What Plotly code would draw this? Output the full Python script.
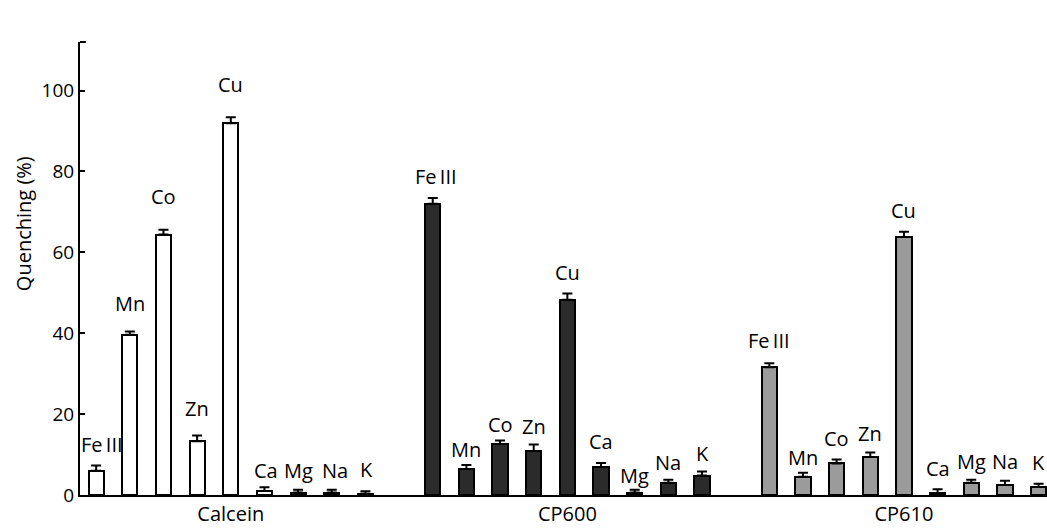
import plotly.graph_objects as go

groups = ["Calcein", "CP600", "CP610"]
metals = ["Fe\u2009III", "Mn", "Co", "Zn", "Cu", "Ca", "Mg", "Na", "K"]

calcein = [6.0, 39.6, 64.4, 13.3, 91.9, 1.0, 0.6, 0.6, 0.3]
calcein_err = [1.3, 0.8, 1.2, 1.4, 1.5, 0.9, 0.7, 0.7, 0.6]
cp600 = [72.0, 6.4, 12.6, 10.9, 48.3, 6.9, 0.6, 3.0, 4.8]
cp600_err = [1.4, 1.0, 0.9, 1.6, 1.5, 1.0, 0.7, 0.8, 1.0]
cp610 = [31.6, 4.5, 7.8, 9.4, 63.8, 0.5, 3.0, 2.5, 2.0]
cp610_err = [1.0, 1.0, 1.0, 1.1, 1.3, 0.9, 0.8, 1.0, 0.8]

values = [calcein, cp600, cp610]
errors = [calcein_err, cp600_err, cp610_err]

# style / layout (pixel offsets of labels above error caps)
label_shift = [
    [19, 26, 31, 25, 31, 15, 17, 17, 20],
    [20, 14, 14, 16, 19, 20, 12, 15, 16],
    [21, 13, 19, 17, 19, 19, 16, 17, 19],
]
label_xshift = [
    [6, 0, 0, 0, 0, 2, 0, 3, 1],
    [3, 0, 0, 0, 0, 0, 0, 0, 0],
    [0, 0, 0, 0, 0, 0, 0, 0, 0],
]
fills = ["#ffffff", "#2b2b2b", "#9b9b9b"]
group_gap = 10
FONT = "Open Sans"

fig = go.Figure()
annotations = []
for g, name in enumerate(groups):
    xs = [g * group_gap + i for i in range(len(metals))]
    fig.add_trace(go.Bar(
        x=xs, y=values[g], width=0.45,
        marker=dict(color=fills[g], line=dict(color="black", width=2)),
        error_y=dict(type="data", symmetric=False, array=errors[g],
                     arrayminus=[0] * len(metals), color="black",
                     thickness=2, width=5),
        showlegend=False, name=name,
    ))
    for i, m in enumerate(metals):
        annotations.append(dict(
            x=xs[i], y=values[g][i] + errors[g][i], xref="x", yref="y",
            text=m, showarrow=False, yanchor="middle", xanchor="center",
            yshift=label_shift[g][i] + 2, xshift=label_xshift[g][i],
            font=dict(family=FONT, size=20, color="black"),
        ))

annotations.append(dict(
    text="Quenching (%)", xref="paper", yref="paper", x=-0.059, y=0.60,
    xanchor="center", yanchor="middle", textangle=-90, showarrow=False,
    font=dict(family=FONT, size=20, color="black"),
))

fig.update_layout(
    width=1047, height=528,
    margin=dict(l=80, r=0, t=42, b=33),
    paper_bgcolor="white", plot_bgcolor="white",
    font=dict(family=FONT, size=19, color="black"),
    annotations=annotations,
    bargap=0,
)
fig.update_xaxes(
    range=[-0.48, 28.25],
    tickvals=[4 + g * group_gap for g in range(len(groups))],
    ticktext=groups, ticks="", showgrid=False, zeroline=False,
    showline=True, linecolor="black", linewidth=2,
    tickfont=dict(family=FONT, size=20), ticklabelstandoff=0,
)
fig.update_yaxes(
    range=[0, 112], tickvals=[0, 20, 40, 60, 80, 100],
    ticks="inside", ticklen=5, tickwidth=2, tickcolor="black",
    showgrid=False, zeroline=False,
    showline=True, linecolor="black", linewidth=2,
    tickfont=dict(family=FONT, size=19),
)
fig.add_shape(type="line", xref="paper", yref="paper", x0=0, x1=0.006, y0=1, y1=1,
              line=dict(color="black", width=2))

fig.write_html("out.html")
